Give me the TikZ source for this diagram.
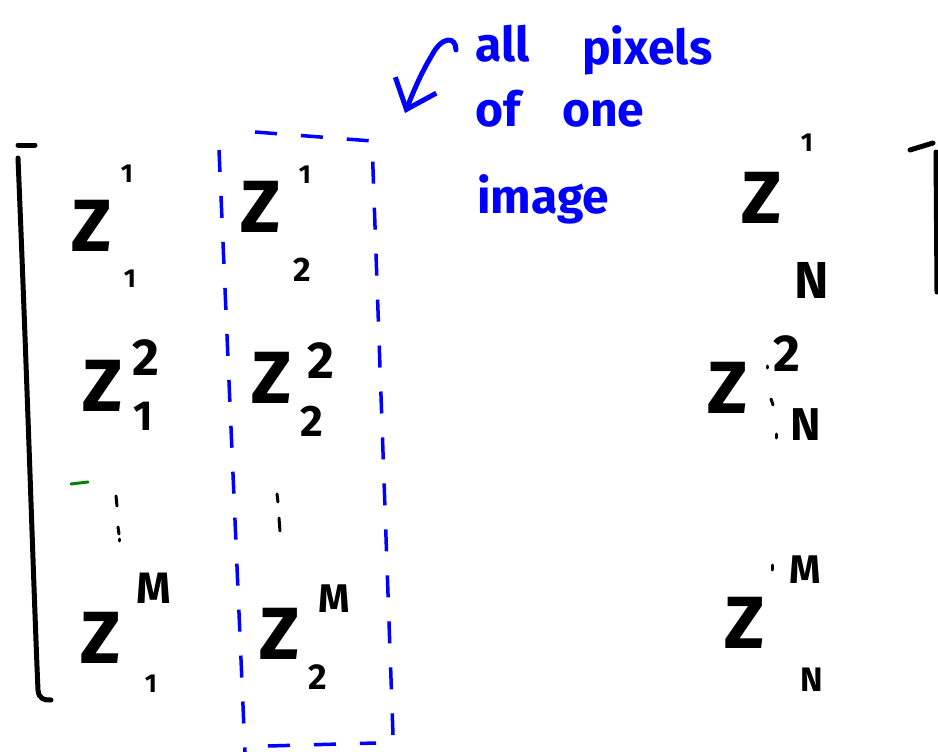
\documentclass[tikz,border=0pt]{standalone}
\usepackage{fontspec}
\setmainfont{Fira Sans}
\usetikzlibrary{arrows.meta}
\begin{document}
\begin{tikzpicture}[x=1pt,y=-1pt,
  zz/.style={inner sep=0pt,font=\bfseries\fontsize{74}{74}\selectfont},
  idx/.style={inner sep=0pt,font=\bfseries\fontsize{52}{52}\selectfont},
  idxs/.style={inner sep=0pt,font=\bfseries\fontsize{26}{26}\selectfont},
  hand/.style={inner sep=0pt,anchor=base west,text=blue,font=\bfseries\fontsize{48}{48}\selectfont},
  brk/.style={line width=5pt,line cap=round,line join=round},
  box/.style={draw=blue,line width=3.5pt,dash pattern=on 22pt off 24pt},
  tick/.style={line width=3pt,line cap=round}]
\useasboundingbox (0,0) rectangle (938,752);
% brackets
\draw[brk] (18,145) -- (35,145);
\draw[brk] (18,158) .. controls (28,400) and (34,600) .. (38,690) .. controls (39,700) and (45,700) .. (51,700);
\draw[brk] (910,150) -- (933,143);
\draw[brk] (936,152) -- (937,292);
% row 1
\node[zz] (z11) at (92,226) {Z};
\node[idxs] (z11u) at (127,174) {1};
\node[idxs] (z11d) at (130,279) {1};
\node[zz] (z12) at (261,207) {Z};
\node[idxs] (z12u) at (305,175) {1};
\node[idx,font=\bfseries\fontsize{34}{34}\selectfont] (z12d) at (302,270) {2};
\node[zz] (z1N) at (762,198) {Z};
\node[idxs] (z1Nu) at (807,143) {1};
\node[idx] (z1Nd) at (812,280) {N};
% row 2
\node[zz] (z21) at (103,386) {Z};
\node[idx] (z21u) at (146,358) {2};
\node[idx,font=\bfseries\fontsize{42}{42}\selectfont] (z21d) at (143,416) {1};
\node[zz] (z22) at (272,378) {Z};
\node[idx] (z22u) at (321,361) {2};
\node[idx,font=\bfseries\fontsize{44}{44}\selectfont] (z22d) at (312,421) {2};
\node[zz] (z2N) at (728,388) {Z};
\node[idx] (z2Nu) at (787,354) {2};
\node[idx,font=\bfseries\fontsize{46}{46}\selectfont] (z2Nd) at (806,425) {N};
\draw[tick] (767,366) -- (767,368);
\draw[tick] (771,399) -- (773,405);
\draw[tick] (776,434) -- (776,438);
% vertical dots
\draw[tick] (116,496) -- (117,506);
\draw[tick] (118,527) -- (119,534);
\draw[tick] (119,539) -- (119,541);
\draw[tick] (277,494) -- (278,502);
\draw[tick] (279,518) -- (280,531);
\draw[line width=3pt,line cap=round,green!50!black] (71,484) -- (88,482);
% row M
\node[zz] (z31) at (101,638) {Z};
\node[idx,font=\bfseries\fontsize{44}{44}\selectfont] (z31u) at (154,588) {M};
\node[idxs] (z31d) at (151,684) {1};
\node[zz] (z32) at (280,634) {Z};
\node[idx,font=\bfseries\fontsize{40}{40}\selectfont] (z32u) at (334,599) {M};
\node[idx,font=\bfseries\fontsize{36}{36}\selectfont] (z32d) at (318,677) {2};
\node[zz] (z3N) at (745,623) {Z};
\node[idx,font=\bfseries\fontsize{40}{40}\selectfont] (z3Nu) at (805,570) {M};
\node[idx,font=\bfseries\fontsize{34}{34}\selectfont] (z3Nd) at (812,680) {N};
\draw[tick] (772,565) -- (772,570);
% dashed box around column 2
\draw[box] (219,150) -- (245,752);
\draw[box] (255,132) -- (372,141) -- (393,735);
\draw[box] (268,746) -- (376,743);
% annotation
\node[hand] (t1) at (475,62) {all};
\node[hand] (t2) at (582,65) {pixels};
\node[hand] (t3) at (475,127) {of};
\node[hand] (t4) at (562,127) {one};
\node[hand] (t5) at (477,213) {image};
\coordinate (a0) at (456,50);
\coordinate (a1) at (405,113);
\draw[blue,line width=5pt,line cap=round,-{Straight Barb[length=26pt,width=44pt]}]
  (a0) .. controls (456,36) and (442,36) .. (432,55) .. controls (420,75) and (412,95) .. (a1);
\end{tikzpicture}
\end{document}
